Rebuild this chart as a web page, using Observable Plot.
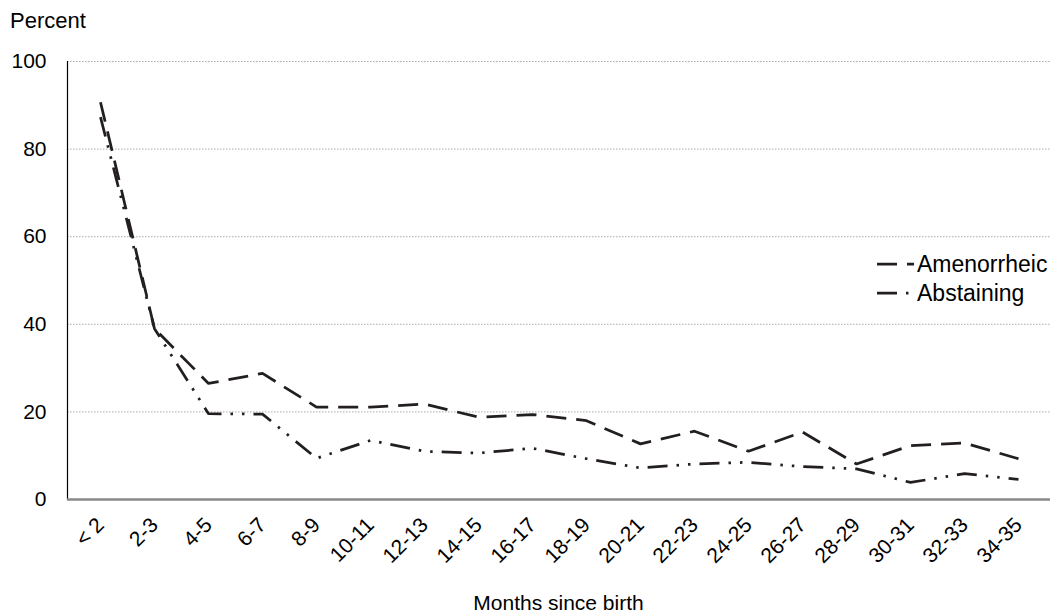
<!DOCTYPE html>
<html><head><meta charset="utf-8">
<script src="https://cdn.jsdelivr.net/npm/d3@7"></script>
<script src="https://cdn.jsdelivr.net/npm/@observablehq/plot@0.6"></script>
<style>
body{margin:0;background:#fff;}
#wrap{position:relative;width:1050px;height:614px;font-family:"Liberation Sans",Arial,sans-serif;color:#000;}
#ylab{position:absolute;left:10px;top:10px;font-size:22px;line-height:21px;}
#xlab{position:absolute;left:67px;width:983px;text-align:center;top:592px;font-size:21px;line-height:21px;}
#legend{position:absolute;left:877px;top:250px;font-size:23px;}
.row{display:flex;align-items:flex-start;height:29px;line-height:29px;}
.row svg{margin-right:3px;}
</style></head>
<body>
<div id="wrap">
  <div id="chart"></div>
  <div id="ylab"></div>
  <div id="xlab"></div>
  <div id="legend"></div>
</div>
<script>
const categories = ["< 2","2-3","4-5","6-7","8-9","10-11","12-13","14-15","16-17","18-19","20-21","22-23","24-25","26-27","28-29","30-31","32-33","34-35"];
const amenorrheic = [90.7, 39.0, 26.5, 28.8, 21.1, 21.1, 21.8, 18.8, 19.4, 18.0, 12.7, 15.6, 11.0, 15.4, 8.1, 12.3, 12.9, 9.3];
const abstaining = [87.3, 39.0, 19.6, 19.5, 9.4, 13.5, 11.0, 10.6, 11.7, 9.3, 7.2, 8.1, 8.5, 7.5, 7.0, 3.9, 5.9, 4.6];
const yTicks = [0, 20, 40, 60, 80, 100];
const seriesNames = ["Amenorrheic", "Abstaining"];
const yTitle = "Percent";
const xTitle = "Months since birth";

const dashA = "20,10";
const dashB = "20,9,2.5,9,2.5,9";
const ink = "#231f20";

const rowsA = categories.map((c, i) => ({cat: c, v: amenorrheic[i]}));
const rowsB = categories.map((c, i) => ({cat: c, v: abstaining[i]}));

const chart = Plot.plot({
  width: 1050, height: 614,
  marginLeft: 67, marginRight: 0, marginTop: 61, marginBottom: 115,
  style: {fontFamily: "'Liberation Sans', Arial, sans-serif", fontSize: "21px", color: "#000", background: "#fff", overflow: "visible"},
  x: {type: "point", domain: categories, padding: 0.5, label: null},
  y: {domain: [0, 100], label: null},
  marks: [
    Plot.gridY(yTicks.filter(t => t > 0), {stroke: "#aaa", strokeOpacity: 1, strokeDasharray: "1.5,1.5"}),
    Plot.axisY(yTicks, {tickSize: 0, tickPadding: 21, label: null, fontSize: 21}),
    Plot.axisX({tickSize: 0, tickRotate: -45, tickPadding: 22, dx: 0, label: null, fontSize: 21}),
    Plot.frame({anchor: "left", stroke: "#000", strokeWidth: 1.2}),
    Plot.ruleY([0], {stroke: "#888", strokeWidth: 2.5}),
    Plot.lineY(rowsA, {x: "cat", y: "v", stroke: ink, strokeWidth: 2.75, strokeDasharray: dashA, strokeLinecap: "butt", strokeLinejoin: "miter"}),
    Plot.lineY(rowsB, {x: "cat", y: "v", stroke: ink, strokeWidth: 2.75, strokeDasharray: dashB, strokeLinecap: "butt", strokeLinejoin: "miter"})
  ]
});
document.getElementById("chart").appendChild(chart);
document.getElementById("ylab").textContent = yTitle;
document.getElementById("xlab").textContent = xTitle;

const legend = d3.select("#legend");
[[seriesNames[0], dashA], [seriesNames[1], dashB]].forEach(([name, dash]) => {
  const row = legend.append("div").attr("class", "row");
  const s = row.append("svg").attr("width", 37).attr("height", 29);
  s.append("line").attr("x1", 0).attr("x2", 37).attr("y1", 14).attr("y2", 14)
    .attr("stroke", ink).attr("stroke-width", 2.75).attr("stroke-dasharray", dash);
  row.append("span").text(name);
});
</script>
</body></html>
